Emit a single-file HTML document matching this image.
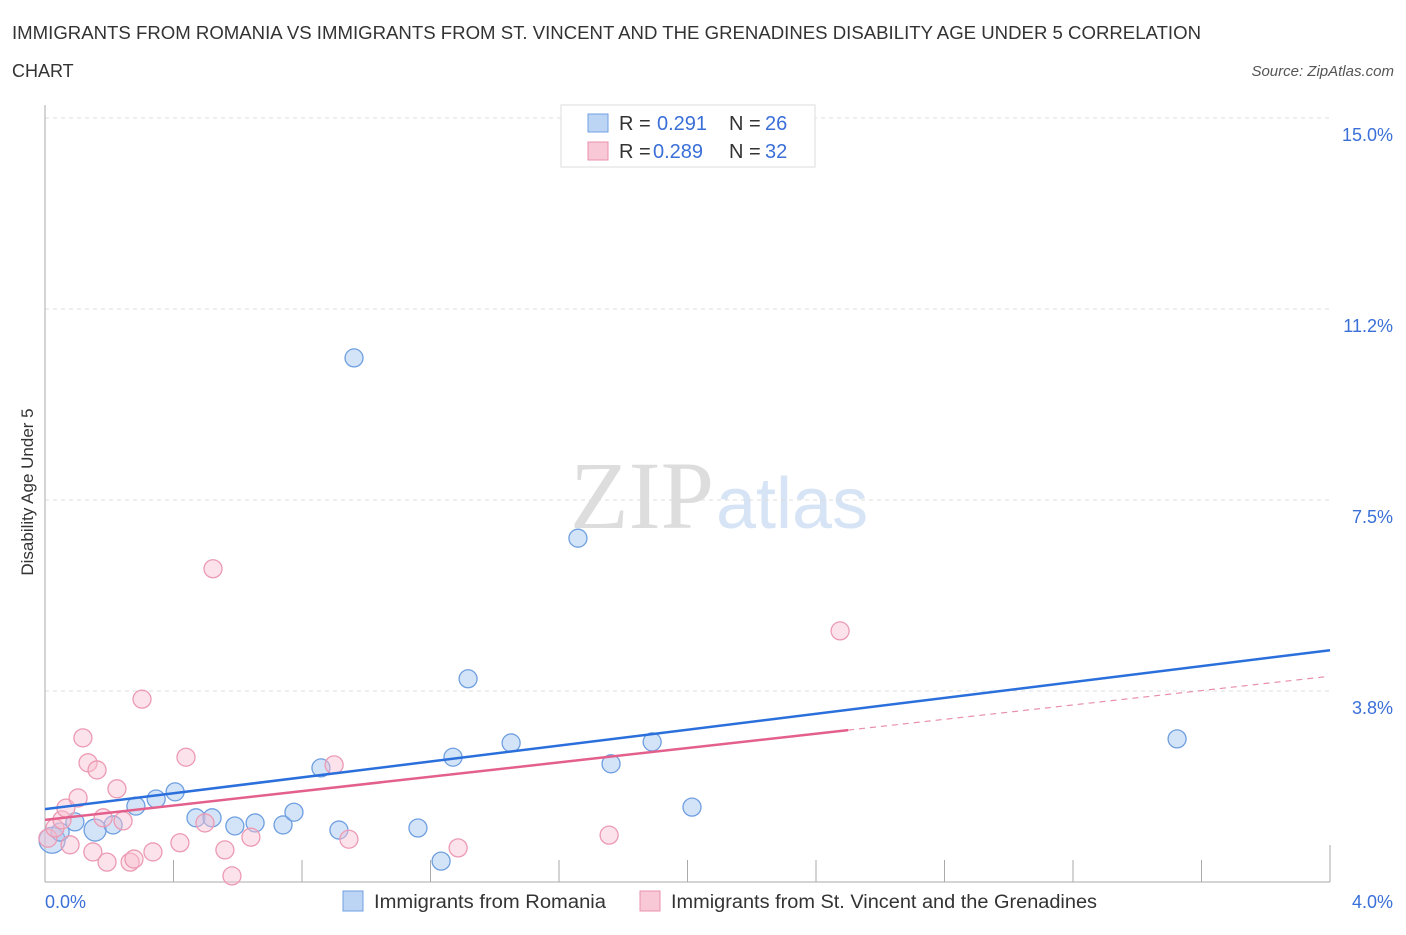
<!DOCTYPE html>
<html><head><meta charset="utf-8"><style>
body{margin:0;background:#fff;font-family:"Liberation Sans",sans-serif;}
</style></head><body>
<svg width="1406" height="930" xmlns="http://www.w3.org/2000/svg">
<text x="12" y="39" font-size="18" fill="#333" textLength="1189" lengthAdjust="spacingAndGlyphs">IMMIGRANTS FROM ROMANIA VS IMMIGRANTS FROM ST. VINCENT AND THE GRENADINES DISABILITY AGE UNDER 5 CORRELATION</text>
<text x="12" y="77" font-size="18" fill="#333">CHART</text>
<text x="1394" y="76" font-size="15" fill="#555" font-style="italic" text-anchor="end">Source: ZipAtlas.com</text>
<text x="714" y="528" font-size="96" fill="#ddd" text-anchor="end" font-family="Liberation Serif,serif">ZIP</text>
<text x="716" y="528" font-size="72" fill="#d6e4f5">atlas</text>
<g id="grid"></g>
<g id="axes"></g>
<g id="pts"></g>
<g id="lines"></g>
<text x="33" y="492" font-size="17" fill="#333" text-anchor="middle" transform="rotate(-90 33 492)">Disability Age Under 5</text>
<text x="45" y="908" font-size="18" fill="#3a6fd8">0.0%</text>
<text x="1393" y="908" font-size="18" fill="#3a6fd8" text-anchor="end">4.0%</text>
<g>
<rect x="561" y="105" width="254" height="62" fill="#fff" stroke="#ddd"/>
<rect x="588" y="114" width="20" height="18" fill="#bcd5f5" stroke="#6f9fe0"/>
<text x="619" y="130" font-size="20" fill="#333">R = </text><text x="657" y="130" font-size="20" fill="#3a6fd8">0.291</text>
<text x="729" y="130" font-size="20" fill="#333">N = </text><text x="765" y="130" font-size="20" fill="#3a6fd8">26</text>
<rect x="588" y="142" width="20" height="18" fill="#f8c8d6" stroke="#e890ab"/>
<text x="619" y="158" font-size="20" fill="#333">R = </text><text x="653" y="158" font-size="20" fill="#3a6fd8">0.289</text>
<text x="729" y="158" font-size="20" fill="#333">N = </text><text x="765" y="158" font-size="20" fill="#3a6fd8">32</text>
</g>
<g>
<rect x="343" y="891" width="20" height="20" fill="#bcd5f5" stroke="#6f9fe0"/>
<text x="374" y="908" font-size="19" fill="#333" textLength="232" lengthAdjust="spacingAndGlyphs">Immigrants from Romania</text>
<rect x="640" y="891" width="20" height="20" fill="#f8c8d6" stroke="#e890ab"/>
<text x="671" y="908" font-size="19" fill="#333" textLength="426" lengthAdjust="spacingAndGlyphs">Immigrants from St. Vincent and the Grenadines</text>
</g>
</svg>
<script>
const yTicks=[3.75,7.5,11.25,15.0];
const yTickLabels=["3.8%","7.5%","11.2%","15.0%"];
const xTicks=[0.4,0.8,1.2,1.6,2.0,2.4,2.8,3.2,3.6,4.0];
const blueX=[0.022,0.047,0.093,0.156,0.212,0.283,0.346,0.405,0.470,0.520,0.591,0.654,0.741,0.775,0.859,0.915,0.962,1.161,1.233,1.270,1.317,1.451,1.659,1.762,1.890,2.014,3.524];
const blueY=[0.82,0.98,1.18,1.02,1.12,1.49,1.63,1.77,1.26,1.26,1.10,1.16,1.12,1.37,2.24,1.02,10.29,1.06,0.41,2.45,3.99,2.73,6.75,2.32,2.75,1.47,2.81];
const blueR=[13,9,9,11,9,9,9,9,9,9,9,9,9,9,9,9,9,9,9,9,9,9,9,9,9,9,9];
const pinkX=[0.009,0.031,0.053,0.065,0.078,0.103,0.118,0.134,0.162,0.181,0.193,0.149,0.224,0.243,0.265,0.277,0.302,0.336,0.420,0.439,0.498,0.523,0.560,0.582,0.641,0.900,0.946,1.286,1.756,2.475];
const pinkY=[0.86,1.06,1.22,1.45,0.73,1.65,2.83,2.34,2.20,1.26,0.39,0.59,1.83,1.20,0.39,0.45,3.59,0.59,0.77,2.45,1.16,6.15,0.63,0.12,0.88,2.30,0.84,0.67,0.92,4.93];
const blueFit=[1.43,0.78];
const pinkFit=[1.22,0.705];
const pinkSolidEnd=2.5, pinkDashEnd=3.985;
const X=v=>45+v/4*1285, Y=v=>882-v/15*764;
const NS="http://www.w3.org/2000/svg";
function mk(p,t,a){const e=document.createElementNS(NS,t);for(const k in a)e.setAttribute(k,a[k]);document.getElementById(p).appendChild(e);return e;}
yTicks.forEach((v,i)=>{
 const l=mk('grid','line',{x1:45,x2:1330,y1:Y(v),y2:Y(v),stroke:'#ddd','stroke-dasharray':'4 4'});
 
 
 const t=mk('grid','text',{x:1393,y:Y(v)+23,'font-size':18,fill:'#3a6fd8','text-anchor':'end'});
 t.textContent=yTickLabels[i];
 
 
});
mk('axes','line',{x1:45,x2:45,y1:105,y2:882,stroke:'#aaa'});
mk('axes','line',{x1:45,x2:1330,y1:882,y2:882,stroke:'#aaa'});
xTicks.forEach(v=>{
 const t=mk('axes','line',{x1:X(v),x2:X(v),y1:v==4?845:860,y2:882,stroke:'#aaa'});
 
 
});
blueX.forEach((x,i)=>{
 const c=mk('pts','circle',{cx:X(x),cy:Y(blueY[i]),r:blueR[i],fill:'rgba(160,196,240,0.45)',stroke:'#6f9fe0','stroke-width':1.3});
 
 
});
pinkX.forEach((x,i)=>{
 const c=mk('pts','circle',{cx:X(x),cy:Y(pinkY[i]),r:9,fill:'rgba(248,190,208,0.45)',stroke:'#ec9ab3','stroke-width':1.3});
 
 
});
const bl=mk('lines','line',{x1:X(0),y1:Y(blueFit[0]),x2:X(4),y2:Y(blueFit[0]+4*blueFit[1]),stroke:'#2a6fdb','stroke-width':2.5});


const pl=mk('lines','line',{x1:X(0),y1:Y(pinkFit[0]),x2:X(pinkSolidEnd),y2:Y(pinkFit[0]+pinkSolidEnd*pinkFit[1]),stroke:'#e4608c','stroke-width':2.5});


const pd=mk('lines','line',{x1:X(pinkSolidEnd),y1:Y(pinkFit[0]+pinkSolidEnd*pinkFit[1]),x2:X(pinkDashEnd),y2:Y(pinkFit[0]+pinkDashEnd*pinkFit[1]),stroke:'#e890ab','stroke-width':1.2,'stroke-dasharray':'6 5'});


</script>
</body></html>
